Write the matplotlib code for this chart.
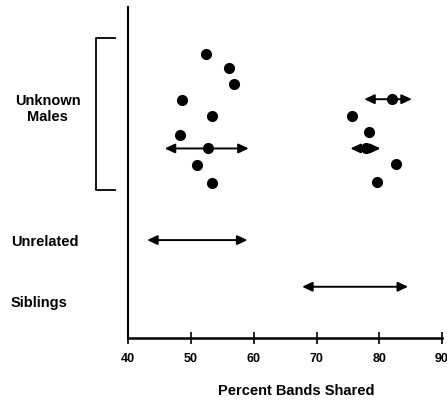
import matplotlib
matplotlib.use("Agg")
import matplotlib.pyplot as plt
import matplotlib.transforms as mtransforms
from matplotlib.lines import Line2D

# percent bands shared, unknown males (left cluster and right cluster)
left_x = [52.4, 56.0, 56.8, 48.6, 53.3, 48.3, 52.7, 51.0, 53.3]
left_y = [284.7, 270.3, 254.7, 238.0, 221.7, 203.3, 189.7, 173.3, 155.3]
right_x = [82.0, 75.7, 78.4, 77.9, 82.6, 79.6]
right_y = [239.0, 222.3, 206.3, 189.7, 173.7, 155.7]

# ranges drawn as double arrows: (low, high, vertical position)
male_ranges = [(45.8, 59.2, 189.7), (77.6, 85.2, 239.0), (75.4, 80.2, 189.7)]
unrelated_range = (43.0, 59.0, 98.0)
siblings_range = (67.7, 84.6, 51.3)

xticks = [40, 50, 60, 70, 80, 90]

plt.rcParams['font.family'] = ['Liberation Sans', 'DejaVu Sans']
plt.rcParams['font.weight'] = 'bold'

fig = plt.figure(figsize=(4.47, 4.02), dpi=100)
ax = fig.add_axes([0.2870, 0.1567, 0.7018, 0.8227])

def double_arrow(lo, hi, y):
    ax.annotate("", xy=(hi, y), xytext=(lo, y),
                arrowprops=dict(arrowstyle="<|-|>,head_length=0.6,head_width=0.28",
                                color="black", lw=1.4, shrinkA=0, shrinkB=0))

for lo, hi, y in male_ranges:
    double_arrow(lo, hi, y)
double_arrow(*unrelated_range)
double_arrow(*siblings_range)

ax.plot(left_x, left_y, "o", color="black", markersize=7)
ax.plot(right_x, right_y, "o", color="black", markersize=7)

ax.set_xlim(40, 90)
ax.set_ylim(0, 331)
ax.set_xticks(xticks)
ax.set_xticklabels([str(t) for t in xticks], fontsize=9, fontweight="bold")
ax.tick_params(axis="x", direction="inout", length=8, width=1.2, pad=6)
ax.set_yticks([])
for s in ["top", "right"]:
    ax.spines[s].set_visible(False)
ax.spines["left"].set_linewidth(1.5)
ax.spines["bottom"].set_linewidth(1.8)

# labels on the left, x in figure fraction, y in data
trans = mtransforms.blended_transform_factory(fig.transFigure, ax.transData)
ax.text(0.1063, 339 - 108.5, "Unknown\nMales", transform=trans, ha="center",
        va="center", fontsize=10.5, fontweight="bold", linespacing=1.2)
ax.text(0.024, 339 - 242.3, "Unrelated", transform=trans, ha="left",
        va="center", fontsize=10.5, fontweight="bold")
ax.text(0.024, 339 - 303, "Siblings", transform=trans, ha="left",
        va="center", fontsize=10.5, fontweight="bold")

# bracket around the unknown males
bx0, bx1 = 0.2154, 0.2566
ytop, ybot = 339 - 38.3, 339 - 190.7
ax.add_line(Line2D([bx1, bx0, bx0, bx1], [ytop, ytop, ybot, ybot],
                   transform=trans, color="black", lw=1.3, clip_on=False))

fig.text(296 / 447, 1 - 391.5 / 402, "Percent Bands Shared", ha="center",
         va="center", fontsize=10.5, fontweight="bold")

fig.savefig("out.png", dpi=100)
